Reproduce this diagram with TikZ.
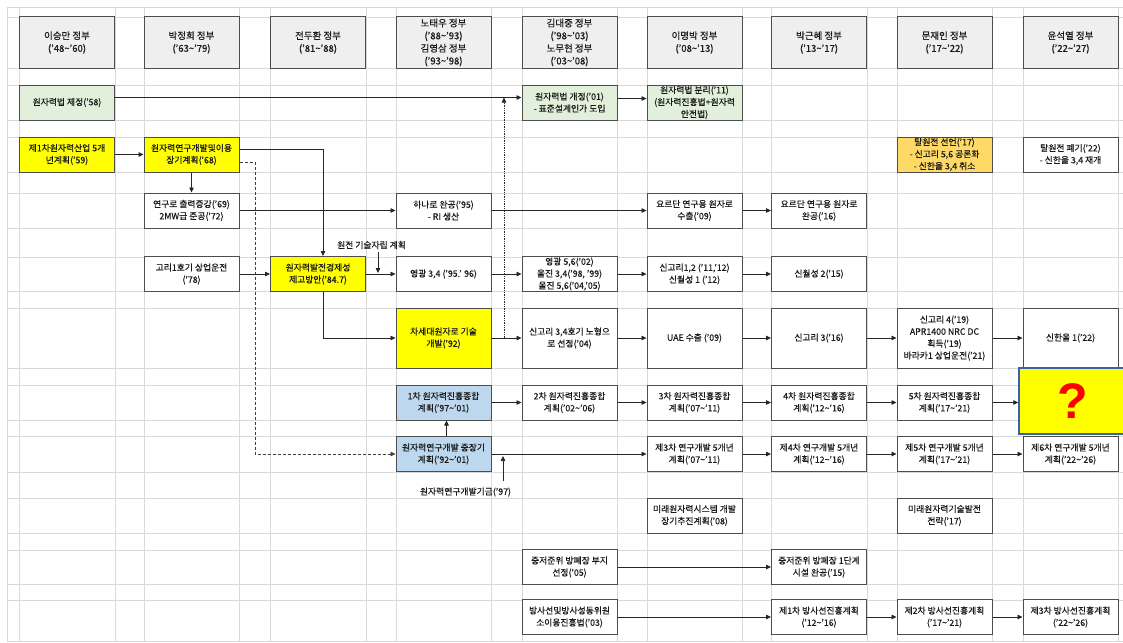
\documentclass[tikz,border=0pt]{standalone}
\usepackage{fontspec}
\setmainfont{Noto Sans CJK KR}[UprightFeatures={FakeBold=0.45}]
\newfontfamily\qfont{Liberation Sans}
\usetikzlibrary{arrows.meta}
\definecolor{gridc}{HTML}{D9D9D9}
\definecolor{bordc}{HTML}{4D4D4D}
\definecolor{txtc}{HTML}{1A1A1A}
\definecolor{hdrc}{HTML}{EFEFEF}
\definecolor{grnc}{HTML}{E2EFDA}
\definecolor{ylwc}{HTML}{FFFF00}
\definecolor{orgc}{HTML}{FFD966}
\definecolor{bluc}{HTML}{BDD7EE}
\definecolor{qbord}{HTML}{3A62A8}
\definecolor{qred}{HTML}{FF0000}
\newcommand{\mytilde}{\textasciitilde}
\begin{document}
\begin{tikzpicture}[x=1pt,y=-1pt,
  box/.style={draw=bordc, line width=1pt, fill=white, minimum width=95pt,
    minimum height=35pt, inner sep=0.5pt, align=center, text=txtc,
    font=\fontsize{8.8}{12}\selectfont},
  hdr/.style={box, fill=hdrc, minimum height=51pt, font=\fontsize{9.5}{12.6}\selectfont},
  tall/.style={minimum height=60pt},
  grn/.style={fill=grnc}, ylw/.style={fill=ylwc}, org/.style={fill=orgc}, blu/.style={fill=bluc},
  lab/.style={inner sep=0pt, text=txtc, font=\fontsize{8.8}{12}\selectfont},
  arr/.style={-{Triangle[length=5pt,width=4.5pt]}, line width=0.75pt, draw=black!85},
  dsh/.style={arr, densely dashed, draw=black!75},
  dot/.style={arr, densely dotted, line width=0.6pt}
]
\useasboundingbox (0,0) rectangle (1123,642);
\clip (0,0) rectangle (1123,642);
\fill[white] (0,0) rectangle (1123,642);
% grid
\foreach \x in {7,19,115,144,239,270,366,396,491,522,617,647,742,771,867,897,992,1023,1118}
  \draw[gridc, line width=0.8pt] (\x,7) -- (\x,642);
\foreach \y in {7,17,68,85,120,137,172,193,228,257,291,308,368,385,420,436,472,498,533,550,584,600,641}
  \draw[gridc, line width=0.8pt] (7,\y) -- (1123,\y);
% headers
\node[hdr] (h1) at (67,42.5) {이승만 정부\\('48\mytilde'60)};
\node[hdr] (h2) at (191.5,42.5) {박정희 정부\\('63\mytilde'79)};
\node[hdr] (h3) at (318,42.5) {전두환 정부\\('81\mytilde'88)};
\node[hdr] (h4) at (443.5,42.5) {노태우 정부\\('88\mytilde'93)\\김영삼 정부\\('93\mytilde'98)};
\node[hdr] (h5) at (569.5,42.5) {김대중 정부\\('98\mytilde'03)\\노무현 정부\\('03\mytilde'08)};
\node[hdr] (h6) at (694.5,42.5) {이명박 정부\\('08\mytilde'13)};
\node[hdr] (h7) at (819,42.5) {박근혜 정부\\('13\mytilde'17)};
\node[hdr] (h8) at (944.5,42.5) {문재인 정부\\('17\mytilde'22)};
\node[hdr] (h9) at (1070.5,42.5) {윤석열 정부\\('22\mytilde'27)};
% row 1
\node[box,grn] (r1a) at (67,102.5) {원자력법 제정('58)};
\node[box,grn] (r1e) at (569.5,102.5) {원자력법 개정('01)\\- 표준설계인가 도입};
\node[box,grn] (r1f) at (694.5,102.5) {원자력법 분리('11)\\(원자력진흥법+원자력\\안전법)};
% row 2
\node[box,ylw] (r2a) at (67,154.5) {제1차원자력산업 5개\\년계획('59)};
\node[box,ylw] (r2b) at (191.5,154.5) {원자력연구개발및이용\\장기계획('68)};
\node[box,org] (r2h) at (944.5,154.5) {탈원전 선언('17)\\- 신고리 5,6 공론화\\- 신한울 3,4 취소};
\node[box] (r2i) at (1070.5,154.5) {탈원전 폐기('22)\\- 신한울 3,4 재개};
% row 3
\node[box] (r3b) at (191.5,210.5) {연구로 출력증강('69)\\2MW급 준공('72)};
\node[box] (r3d) at (443.5,210.5) {하나로 완공('95)\\- RI 생산};
\node[box] (r3f) at (694.5,210.5) {요르단 연구용 원자로\\수출('09)};
\node[box] (r3g) at (819,210.5) {요르단 연구용 원자로\\완공('16)};
% row 4
\node[box] (r4b) at (191.5,274) {고리1호기 상업운전\\('78)};
\node[box,ylw] (r4c) at (318,274) {원자력발전경제성\\제고방안('84.7)};
\node[box] (r4d) at (443.5,274) {영광 3,4 ('95.' 96)};
\node[box] (r4e) at (569.5,274) {영광 5,6('02)\\울진 3,4('98, '99)\\울진 5,6('04,'05)};
\node[box] (r4f) at (694.5,274) {신고리1,2 ('11,'12)\\신월성 1 ('12)};
\node[box] (r4g) at (819,274) {신월성 2('15)};
% row 5
\node[box,tall,ylw] (r5d) at (443.5,338) {차세대원자로 기술\\개발('92)};
\node[box,tall] (r5e) at (569.5,338) {신고리 3,4호기 노형으\\로 선정('04)};
\node[box,tall] (r5f) at (694.5,338) {UAE 수출 ('09)};
\node[box,tall] (r5g) at (819,338) {신고리 3('16)};
\node[box,tall] (r5h) at (944.5,338) {신고리 4('19)\\APR1400 NRC DC\\획득('19)\\바라카1 상업운전('21)};
\node[box,tall] (r5i) at (1070.5,338) {신한울 1('22)};
% row 6
\node[box,blu] (r6d) at (443.5,402.5) {1차 원자력진흥종합\\계획('97\mytilde'01)};
\node[box] (r6e) at (569.5,402.5) {2차 원자력진흥종합\\계획('02\mytilde'06)};
\node[box] (r6f) at (694.5,402.5) {3차 원자력진흥종합\\계획('07\mytilde'11)};
\node[box] (r6g) at (819,402.5) {4차 원자력진흥종합\\계획('12\mytilde'16)};
\node[box] (r6h) at (944.5,402.5) {5차 원자력진흥종합\\계획('17\mytilde'21)};
\node[draw=qbord, line width=1.4pt, fill=ylwc, minimum width=107pt, minimum height=66pt,
  inner sep=0pt, text=qred, font=\qfont\bfseries\fontsize{50}{50}\selectfont] (q) at (1072.5,401) {?};
% row 7
\node[box,blu] (r7d) at (443.5,454) {원자력연구개발 중장기\\계획('92\mytilde'01)};
\node[box] (r7f) at (694.5,454) {제3차 연구개발 5개년\\계획('07\mytilde'11)};
\node[box] (r7g) at (819,454) {제4차 연구개발 5개년\\계획('12\mytilde'16)};
\node[box] (r7h) at (944.5,454) {제5차 연구개발 5개년\\계획('17\mytilde'21)};
\node[box] (r7i) at (1070.5,454) {제6차 연구개발 5개년\\계획('22\mytilde'26)};
% row 8
\node[box] (r8f) at (694.5,515.5) {미래원자력시스템 개발\\장기추진계획('08)};
\node[box] (r8h) at (944.5,515.5) {미래원자력기술발전\\전략('17)};
% row 9
\node[box] (r9e) at (569.5,567) {중저준위 방폐장 부지\\선정('05)};
\node[box] (r9g) at (819,567) {중저준위 방폐장 1단계\\시설 완공('15)};
% row 10
\node[box] (r10e) at (569.5,617) {방사선및방사성동위원\\소이용진흥법('03)};
\node[box] (r10g) at (819,617) {제1차 방사선진흥계획\\('12\mytilde'16)};
\node[box] (r10h) at (944.5,617) {제2차 방사선진흥계획\\('17\mytilde'21)};
\node[box] (r10i) at (1070.5,617) {제3차 방사선진흥계획\\('22\mytilde'26)};
% labels
\node[lab] (lab1) at (371.5,245) {원전 기술자립 계획};
\node[lab] (lab2) at (465.5,492) {원자력연구개발기금('97)};
\coordinate (k1) at (378,252);
\coordinate (k2) at (378,273);
\coordinate (k3) at (503,481);
\coordinate (k4) at (503,456);
\coordinate (d1) at (504,338);
\coordinate (d2) at (504,97.5);
\coordinate (dk) at (255,162);
% connectors
\draw[arr] ([yshift=5pt]r1a.east) -- ([yshift=5pt]r1e.west);
\draw[arr] ([yshift=4pt]r1e.east) -- ([yshift=4pt]r1f.west);
\draw[dot] (d1) -- (d2);
\draw[arr] (r2a.east) -- (r2b.west);
\draw[arr] ([yshift=5.5pt]r2b.east) -| ([xshift=5pt]r4c.north);
\draw[dsh] ([yshift=-7.5pt]r2b.east) -- (dk) |- (r7d.west);
\draw[arr] (r2b.south) -- (r3b.north);
\draw[arr] (r3b.east) -- (r3d.west);
\draw[arr] (r3d.east) -- (r3f.west);
\draw[arr] (r3f.east) -- (r3g.west);
\draw[arr] (r4b.east) -- (r4c.west);
\draw[arr] (r4c.east) -- (r4d.west);
\draw[arr] (k1) -- (k2);
\draw[arr] (r4d.east) -- (r4e.west);
\draw[arr] (r4e.east) -- (r4f.west);
\draw[arr] (r4f.east) -- (r4g.west);
\draw[arr] ([xshift=5pt]r4c.south) |- (r5d.west);
\draw[arr] (r5d.east) -- (r5e.west);
\draw[arr] (r5e.east) -- (r5f.west);
\draw[arr] (r5f.east) -- (r5g.west);
\draw[arr] (r5g.east) -- (r5h.west);
\draw[arr] (r5h.east) -- (r5i.west);
\draw[arr] (r6d.east) -- (r6e.west);
\draw[arr] (r6e.east) -- (r6f.west);
\draw[arr] (r6f.east) -- (r6g.west);
\draw[arr] (r6g.east) -- (r6h.west);
\draw[arr] (r6h.east) -- (r6h.east -| q.west);
\draw[arr] ([xshift=3pt]r7d.north) -- ([xshift=3pt]r6d.south);
\draw[arr] (r7d.east) -- (r7f.west);
\draw[arr] (k3) -- (k4);
\draw[arr] (r7f.east) -- (r7g.west);
\draw[arr] (r7g.east) -- (r7h.west);
\draw[arr] (r7h.east) -- (r7i.west);
\draw[arr] (r9e.east) -- (r9g.west);
\draw[arr] (r10e.east) -- (r10g.west);
\draw[arr] (r10g.east) -- (r10h.west);
\draw[arr] (r10h.east) -- (r10i.west);
\end{tikzpicture}
\end{document}
